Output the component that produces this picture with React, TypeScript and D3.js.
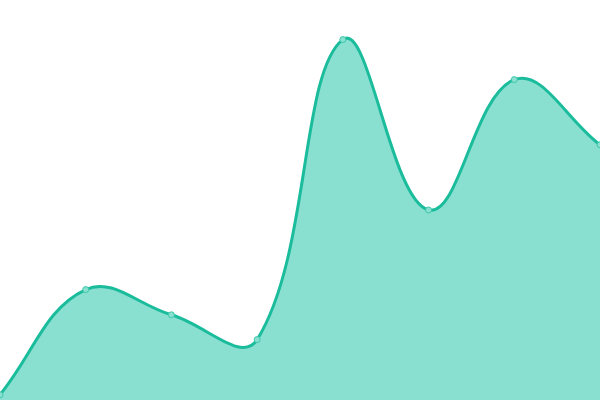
import React, { useEffect, useRef } from 'react';
import * as d3 from 'd3';

const labels = ['a', 'b', 'c', 'd', 'e', 'f', 'g', 'h'];
const values = [1.3, 27.6, 21.3, 15.1, 90.1, 47.5, 80.1, 63.8];

const width = 600;
const height = 400;

// Distance-weighted spline (tension 0.4), control points kept inside the plot
function splineCurve(context: any) {
  const t = 0.4;
  let line: number = NaN;
  let pts: [number, number][] = [];
  const clampX = (v: number) => Math.max(0, Math.min(width, v));
  const clampY = (v: number) => Math.max(0, Math.min(height, v));
  return {
    areaStart() { line = 0; },
    areaEnd() { line = NaN; },
    lineStart() { pts = []; },
    point(x: number, y: number) { pts.push([+x, +y]); },
    lineEnd() {
      const n = pts.length;
      if (n) {
        if (line) context.lineTo(pts[0][0], pts[0][1]);
        else context.moveTo(pts[0][0], pts[0][1]);
        const cps = pts.map((p, i) => {
          const prev = pts[i - 1] || p;
          const next = pts[i + 1] || p;
          const d01 = Math.hypot(p[0] - prev[0], p[1] - prev[1]);
          const d12 = Math.hypot(next[0] - p[0], next[1] - p[1]);
          let s01 = d01 / (d01 + d12);
          let s12 = d12 / (d01 + d12);
          if (isNaN(s01)) s01 = 0;
          if (isNaN(s12)) s12 = 0;
          const fa = t * s01;
          const fb = t * s12;
          return {
            inX: clampX(p[0] - fa * (next[0] - prev[0])),
            inY: clampY(p[1] - fa * (next[1] - prev[1])),
            outX: clampX(p[0] + fb * (next[0] - prev[0])),
            outY: clampY(p[1] + fb * (next[1] - prev[1])),
          };
        });
        for (let i = 1; i < n; i++) {
          context.bezierCurveTo(cps[i - 1].outX, cps[i - 1].outY, cps[i].inX, cps[i].inY, pts[i][0], pts[i][1]);
        }
      }
      if (line || (line !== 0 && n === 1)) context.closePath();
      line = 1 - line;
    },
  };
}

export default function App() {
  const svgRef = useRef<SVGSVGElement>(null);

  useEffect(() => {
    if (!svgRef.current) return;
    const svg = d3.select(svgRef.current);
    svg.selectAll('*').remove();

    const x = d3.scalePoint().domain(labels).range([0, width]);
    const y = d3.scaleLinear().domain([0, 100]).range([height, 0]);

    const data = labels.map((l, i) => ({ l, v: values[i] }));

    const area = d3.area<{ l: string; v: number }>()
      .x(d => x(d.l)!)
      .y0(height)
      .y1(d => y(d.v))
      .curve(splineCurve as any);

    const line = d3.line<{ l: string; v: number }>()
      .x(d => x(d.l)!)
      .y(d => y(d.v))
      .curve(splineCurve as any);

    svg.append('path')
      .datum(data)
      .attr('d', area)
      .attr('fill', '#8ae0d0');

    svg.append('path')
      .datum(data)
      .attr('d', line)
      .attr('fill', 'none')
      .attr('stroke', '#1abc9c')
      .attr('stroke-width', 3);

    // Points
    svg.selectAll('.pt')
      .data(data)
      .enter().append('circle')
      .attr('class', 'pt')
      .attr('cx', d => x(d.l)!)
      .attr('cy', d => y(d.v))
      .attr('r', 3)
      .attr('fill', '#8ae0d0')
      .attr('stroke', '#3cc8aa')
      .attr('stroke-width', 1);
  }, []);

  return (
    <div>
      <style>{`body{margin:0}`}</style>
      <svg ref={svgRef} width={width} height={height} style={{ display: 'block' }} />
    </div>
  );
}
